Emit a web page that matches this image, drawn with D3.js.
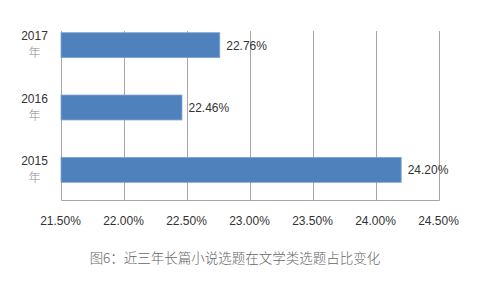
<!DOCTYPE html>
<html>
<head>
<meta charset="utf-8">
<script src="https://cdn.jsdelivr.net/npm/d3@7"></script>
<style>
  body { margin: 0; background: #fff; }
  svg { display: block; }
</style>
</head>
<body>
<svg id="chart" width="480" height="289"></svg>
<script>
const years = ['2017', '2016', '2015']
const shares = [22.76, 22.46, 24.20]
const ticks = [21.5, 22.0, 22.5, 23.0, 23.5, 24.0, 24.5]
const caption = '图6：近三年长篇小说选题在文学类选题占比变化'

const barBlue = '#4f81bd'
const gridGrey = '#a6a6a6'
const textDark = '#333333'
const latin = '"Liberation Sans", Arial, sans-serif'

const svg = d3.select('#chart')
const g = svg.append('g')

const x = d3.scaleLinear()
  .domain([21.5, 24.5])
  .range([60.5, 438.5])

const y = d3.scaleBand()
  .domain(years)
  .range([14, 201])
  .paddingInner(0.6)
  .paddingOuter(0.3)

const plotTop = 31
const plotBottom = 200.5

// vertical gridlines (first one is the axis line)
g.selectAll('line.grid')
  .data(ticks)
  .enter().append('line')
    .attr('class', 'grid')
    .attr('x1', d => Math.round(x(d)) + 0.5)
    .attr('x2', d => Math.round(x(d)) + 0.5)
    .attr('y1', plotTop)
    .attr('y2', plotBottom)
    .attr('stroke', gridGrey)
    .attr('stroke-width', 1)

// bottom axis line
g.append('line')
  .attr('x1', Math.round(x(21.5)) + 0.5)
  .attr('x2', Math.round(x(24.5)) + 0.5)
  .attr('y1', plotBottom)
  .attr('y2', plotBottom)
  .attr('stroke', gridGrey)

// tick labels
g.selectAll('text.tick')
  .data(ticks)
  .enter().append('text')
    .attr('class', 'tick')
    .attr('x', d => x(d))
    .attr('y', 225)
    .attr('text-anchor', 'middle')
    .attr('font-family', latin)
    .attr('font-size', 12)
    .attr('fill', textDark)
    .text(d => d.toFixed(2) + '%')

// bars
g.selectAll('rect.bar')
  .data(years)
  .enter().append('rect')
    .attr('class', 'bar')
    .attr('x', x(21.5) + 0.5)
    .attr('y', d => y(d))
    .attr('width', (d, i) => x(shares[i]) - x(21.5))
    .attr('height', y.bandwidth())
    .attr('fill', barBlue)
    .attr('stroke', '#7fa3d1')
    .attr('stroke-width', 0.8)

// value labels
g.selectAll('text.value')
  .data(years)
  .enter().append('text')
    .attr('class', 'value')
    .attr('x', (d, i) => x(shares[i]) + 7)
    .attr('y', d => y(d) + y.bandwidth() / 2 + 4.5)
    .attr('font-family', latin)
    .attr('font-size', 12)
    .attr('fill', textDark)
    .text((d, i) => shares[i].toFixed(2) + '%')

// category labels: year on first line, 年 below
const cat = g.selectAll('g.cat')
  .data(years)
  .enter().append('g')
    .attr('class', 'cat')
    .attr('transform', d => `translate(34.5, ${y(d) + y.bandwidth() / 2})`)

cat.append('text')
  .attr('y', -5)
  .attr('text-anchor', 'middle')
  .attr('font-family', latin)
  .attr('font-size', 12)
  .attr('fill', textDark)
  .text(d => d)

cat.append('text')
  .attr('y', 12)
  .attr('text-anchor', 'middle')
  .attr('font-family', '"Noto Sans CJK SC", sans-serif')
  .attr('font-size', 12)
  .attr('font-weight', 300)
  .attr('fill', '#888')
  .text('年')

// caption
svg.append('text')
  .attr('x', 235)
  .attr('y', 263)
  .attr('text-anchor', 'middle')
  .attr('font-family', '"Noto Sans CJK SC", sans-serif')
  .attr('font-size', 13.5)
  .attr('font-weight', 300)
  .attr('fill', '#666')
  .text(caption)
</script>
</body>
</html>
